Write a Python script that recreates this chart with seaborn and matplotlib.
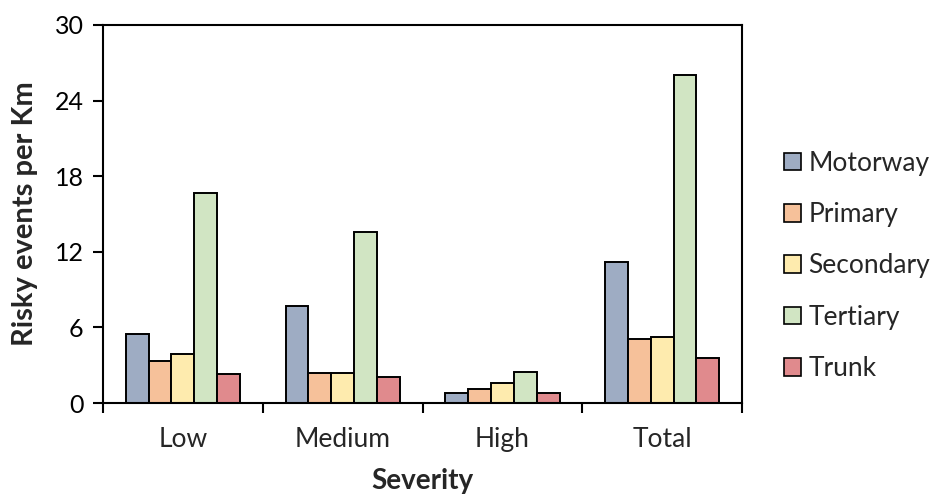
import matplotlib
matplotlib.use("Agg")
import matplotlib.pyplot as plt
from matplotlib.patches import Patch
import pandas as pd
import seaborn as sns

severity = ["Low", "Medium", "High", "Total"]
road_types = ["Motorway", "Primary", "Secondary", "Tertiary", "Trunk"]
motorway = [5.5, 7.7, 0.8, 11.2]
primary = [3.3, 2.4, 1.1, 5.1]
secondary = [3.9, 2.4, 1.6, 5.2]
tertiary = [16.7, 13.6, 2.5, 26.0]
trunk = [2.3, 2.1, 0.8, 3.6]
y_ticks = [0, 6, 12, 18, 24, 30]

colors = ["#9EACC3", "#F6C19A", "#FEEBAE", "#D1E5C3", "#E08A8D"]

series = dict(zip(road_types, [motorway, primary, secondary, tertiary, trunk]))
df = pd.DataFrame(
    [(sev, rt, series[rt][i]) for rt in road_types for i, sev in enumerate(severity)],
    columns=["Severity", "Road", "Rate"],
)

sns.set_theme(style="white")
plt.rcParams["font.family"] = ["Lato", "DejaVu Sans"]

fig = plt.figure(figsize=(9.35, 4.97), dpi=100)
ax = fig.add_axes([0.1102, 0.1891, 0.6834, 0.7606])

sns.barplot(
    data=df, x="Severity", y="Rate", hue="Road", order=severity,
    hue_order=road_types, palette=colors, width=0.715, gap=0,
    edgecolor="black", linewidth=1.4, saturation=1, legend=False, ax=ax,
)

ax.set_xlim(-0.5, len(severity) - 0.5)
ax.set_ylim(0, 30)
ax.set_yticks(y_ticks)
ax.tick_params(axis="y", direction="out", length=7, width=1.5, labelsize=18,
               left=True, pad=7, colors="black")

# Category boundaries get the tick marks; labels sit at the category centres
ax.set_xticks([i - 0.5 for i in range(len(severity) + 1)])
ax.set_xticklabels([])
ax.set_xticks(range(len(severity)), minor=True)
ax.set_xticklabels(severity, minor=True)
ax.tick_params(axis="x", which="major", direction="out", length=7, width=1.5,
               bottom=True, colors="black")
ax.tick_params(axis="x", which="minor", length=0, labelsize=19, pad=17)

for s in ax.spines.values():
    s.set_visible(True)
    s.set_color("black")
    s.set_linewidth(1.5)

ax.set_xlabel("Severity", fontsize=20, fontweight="bold", labelpad=12)
ax.set_ylabel("Risky events per Km", fontsize=21, fontweight="bold", labelpad=12)

handles = [Patch(facecolor=c, edgecolor="black", linewidth=1.2, label=r)
           for c, r in zip(colors, road_types)]
fig.legend(handles=handles, loc="center left", bbox_to_anchor=(0.838, 0.465),
           frameon=False, fontsize=19, handlelength=0.65, handleheight=0.65,
           handletextpad=0.3, labelspacing=1.0, borderaxespad=0, borderpad=0)

fig.savefig("out.png", dpi=100)
